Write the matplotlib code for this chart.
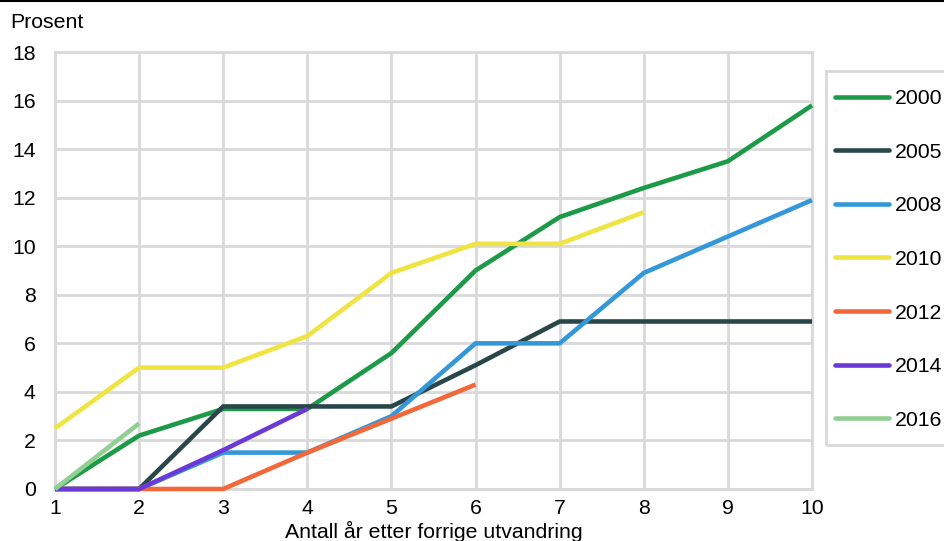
import matplotlib
matplotlib.use("Agg")
import matplotlib.pyplot as plt
from matplotlib.lines import Line2D
from matplotlib.patches import Rectangle

plt.rcParams['font.family'] = ['Liberation Sans', 'DejaVu Sans']

years_after = [1, 2, 3, 4, 5, 6, 7, 8, 9, 10]
s2000 = [0, 2.2, 3.3, 3.3, 5.6, 9.0, 11.2, 12.4, 13.5, 15.8]
s2005 = [0, 0, 3.4, 3.4, 3.4, 5.1, 6.9, 6.9, 6.9, 6.9]
s2008 = [0, 0, 1.5, 1.5, 3.0, 6.0, 6.0, 8.9, 10.4, 11.9]
s2010 = [2.5, 5.0, 5.0, 6.3, 8.9, 10.1, 10.1, 11.4]
s2012 = [0, 0, 0, 1.5, 2.9, 4.3]
s2014 = [0, 0, 1.6, 3.3]
s2016 = [0, 2.7]

series = [
    ("2000", s2000, "#1c9a48"),
    ("2005", s2005, "#29474a"),
    ("2008", s2008, "#3498d8"),
    ("2010", s2010, "#f0e442"),
    ("2012", s2012, "#f2683a"),
    ("2014", s2014, "#6b3ad6"),
    ("2016", s2016, "#92cf92"),
]

yticks = [0, 2, 4, 6, 8, 10, 12, 14, 16, 18]
FS = 15.3
LW = 3.3

fig = plt.figure(figsize=(9.44, 5.41), dpi=100)
ax = fig.add_axes([55/944, 1-489/541, (812-55)/944, (489-52)/541])

for name, vals, col in series:
    ax.plot(years_after[:len(vals)], vals, color=col, lw=LW, label=name,
            solid_capstyle='butt', clip_on=False, zorder=3)

ax.set_xlim(1, 10)
ax.set_ylim(0, 18)
ax.set_xticks(years_after)
ax.set_yticks(yticks)
ax.grid(True, color="#d9d9d9", lw=2)
for sp in ax.spines.values():
    sp.set_color("#d9d9d9")
    sp.set_linewidth(2)
ax.tick_params(length=0, labelsize=FS, colors='black')
ax.tick_params(axis='y', pad=14)
ax.tick_params(axis='x', pad=7)
ax.set_axisbelow(True)
ax.set_xlabel("Antall år etter forrige utvandring", fontsize=FS, labelpad=2)
fig.text(10/944, 1-22/541, "Prosent", fontsize=FS, va='center', ha='left')

# legend frame
fig.add_artist(Rectangle((826/944, 1-445/541), 200/944, (445-71)/541,
                         transform=fig.transFigure, fill=False,
                         edgecolor="#d9d9d9", lw=2, clip_on=False))

handles = [Line2D([0], [0], color=c, lw=LW, solid_capstyle='round') for _, _, c in series]
leg = fig.legend(handles, [n for n, _, _ in series], loc='upper left',
                 bbox_to_anchor=(835/944, 1-89/541), fontsize=FS,
                 frameon=False, handlelength=2.55, handletextpad=0.25,
                 labelspacing=1.63, borderpad=0, borderaxespad=0)

fig.add_artist(Line2D([0, 1], [1-1/541, 1-1/541], color='black', lw=1.5,
                      transform=fig.transFigure))

fig.savefig("out.png", dpi=100)
